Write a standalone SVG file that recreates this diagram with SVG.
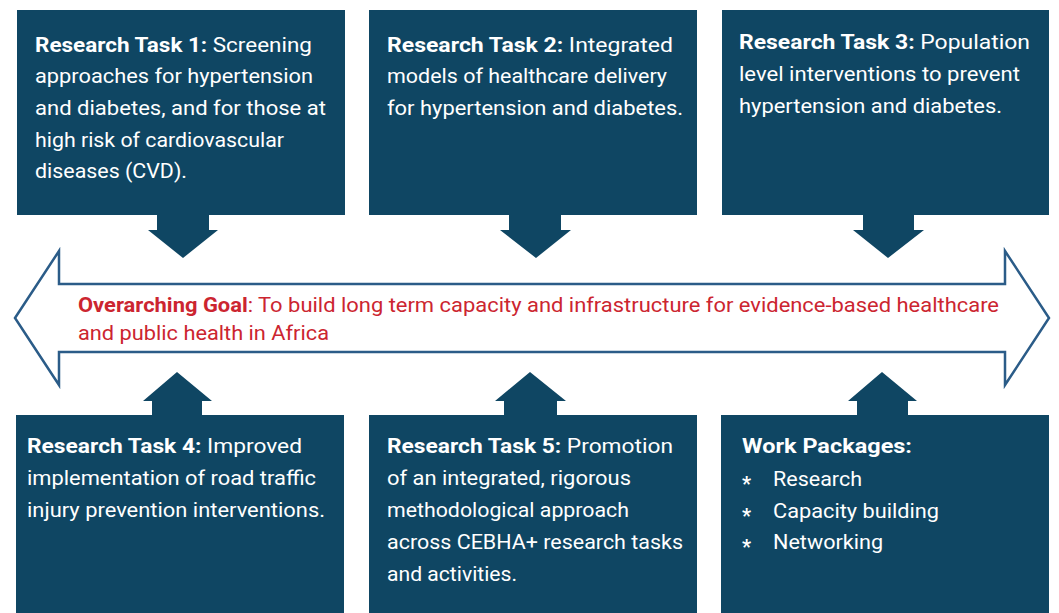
<svg xmlns="http://www.w3.org/2000/svg" width="1059" height="613" viewBox="0 0 1059 613">
<style>
.box{fill:#0f4663}
.sm{fill:#0f4663}
.t{font-family:Roboto,"Liberation Sans",sans-serif;font-size:20px;fill:#ffffff}
.b{font-weight:700}
.g{font-family:Roboto,"Liberation Sans",sans-serif;font-size:19.5px;fill:#cc2530}
.big{fill:#ffffff;stroke:#2b5c88;stroke-width:2.5;stroke-linejoin:miter}
</style>
<rect width="1059" height="613" fill="#ffffff"/>
<g id="connectors">
<polygon class="big" points="15,318 59,251 59,284 1005,284 1005,251 1049,318 1005,385 1005,352 59,352 59,385"/>
<polygon class="sm" points="157,215 209,215 209,230 218,230 183,258 148,230 157,230"/>
<polygon class="sm" points="509,215 561,215 561,230 571,230 536,258 500,230 509,230"/>
<polygon class="sm" points="863,215 914,215 914,230 924,230 888,258 853,230 863,230"/>
<polygon class="sm" points="152,415 202,415 202,401 212,401 177,372 143,401 152,401"/>
<polygon class="sm" points="504,415 557,415 557,401 566,401 530,372 495,401 504,401"/>
<polygon class="sm" points="857,415 908,415 908,401 917,401 882,372 848,401 857,401"/>
</g>
<g id="goal">
<text class="g" x="78" y="312" textLength="921" lengthAdjust="spacingAndGlyphs"><tspan class="b" font-weight="700">Overarching Goal</tspan>: To build long term capacity and infrastructure for evidence-based healthcare</text>
<text class="g" x="78" y="340" textLength="251" lengthAdjust="spacingAndGlyphs">and public health in Africa</text>
</g>
<g id="task1">
<rect class="box" x="17" y="10" width="328" height="205"/>
<text class="t" x="35" y="52" textLength="277" lengthAdjust="spacingAndGlyphs"><tspan class="b">Research Task 1:</tspan> Screening</text>
<text class="t" x="35" y="83" textLength="278" lengthAdjust="spacingAndGlyphs">approaches for hypertension</text>
<text class="t" x="35" y="115" textLength="291" lengthAdjust="spacingAndGlyphs">and diabetes, and for those at</text>
<text class="t" x="35" y="147" textLength="249" lengthAdjust="spacingAndGlyphs">high risk of cardiovascular</text>
<text class="t" x="35" y="178" textLength="152" lengthAdjust="spacingAndGlyphs">diseases (CVD).</text>
</g>
<g id="task2">
<rect class="box" x="369" y="10" width="328" height="205"/>
<text class="t" x="387" y="52" textLength="286" lengthAdjust="spacingAndGlyphs"><tspan class="b">Research Task 2:</tspan> Integrated</text>
<text class="t" x="387" y="83" textLength="280" lengthAdjust="spacingAndGlyphs">models of healthcare delivery</text>
<text class="t" x="387" y="115" textLength="296" lengthAdjust="spacingAndGlyphs">for hypertension and diabetes.</text>
</g>
<g id="task3">
<rect class="box" x="722" y="10" width="327" height="205"/>
<text class="t" x="739" y="49" textLength="291" lengthAdjust="spacingAndGlyphs"><tspan class="b">Research Task 3:</tspan> Population</text>
<text class="t" x="739" y="81" textLength="281" lengthAdjust="spacingAndGlyphs">level interventions to prevent</text>
<text class="t" x="739" y="113" textLength="263" lengthAdjust="spacingAndGlyphs">hypertension and diabetes.</text>
</g>
<g id="task4">
<rect class="box" x="16" y="415" width="328" height="198"/>
<text class="t" x="27" y="453" textLength="275" lengthAdjust="spacingAndGlyphs"><tspan class="b">Research Task 4:</tspan> Improved</text>
<text class="t" x="27" y="485" textLength="289" lengthAdjust="spacingAndGlyphs">implementation of road traffic</text>
<text class="t" x="27" y="517" textLength="298" lengthAdjust="spacingAndGlyphs">injury prevention interventions.</text>
</g>
<g id="task5">
<rect class="box" x="369" y="415" width="328" height="198"/>
<text class="t" x="387" y="453" textLength="286" lengthAdjust="spacingAndGlyphs"><tspan class="b">Research Task 5:</tspan> Promotion</text>
<text class="t" x="387" y="485" textLength="244" lengthAdjust="spacingAndGlyphs">of an integrated, rigorous</text>
<text class="t" x="387" y="517" textLength="242" lengthAdjust="spacingAndGlyphs">methodological approach</text>
<text class="t" x="387" y="549" textLength="296" lengthAdjust="spacingAndGlyphs">across CEBHA+ research tasks</text>
<text class="t" x="387" y="581" textLength="130" lengthAdjust="spacingAndGlyphs">and activities.</text>
</g>
<g id="workpackages">
<rect class="box" x="721" y="415" width="328" height="198"/>
<text class="t b" x="742" y="453" textLength="170" lengthAdjust="spacingAndGlyphs">Work Packages:</text>
<text class="t b" x="742" y="491">*</text>
<text class="t" x="773" y="486" textLength="89" lengthAdjust="spacingAndGlyphs">Research</text>
<text class="t b" x="742" y="523">*</text>
<text class="t" x="773" y="518" textLength="166" lengthAdjust="spacingAndGlyphs">Capacity building</text>
<text class="t b" x="742" y="554">*</text>
<text class="t" x="773" y="549" textLength="110" lengthAdjust="spacingAndGlyphs">Networking</text>
</g>
</svg>
